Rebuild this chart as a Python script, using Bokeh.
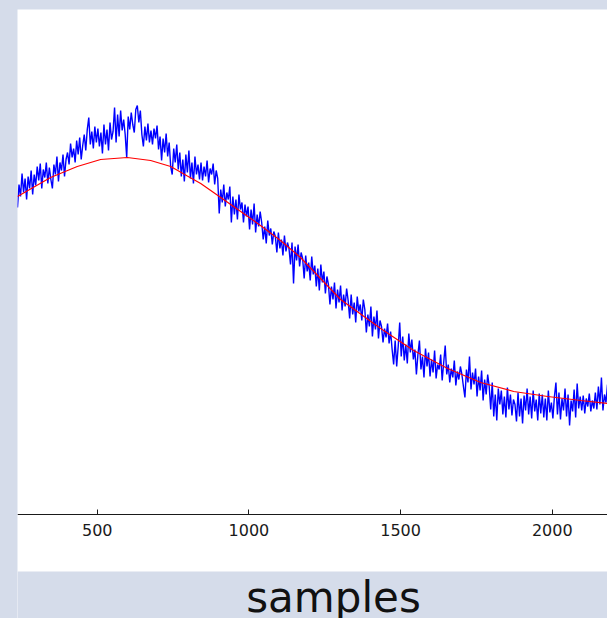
import numpy as np
from bokeh.plotting import figure
from bokeh.models import Range1d, LinearAxis, FixedTicker, Label, BoxAnnotation
from bokeh.embed import file_html
from bokeh.resources import INLINE

# ---- data (amplitude in arbitrary units) ----
x_ticks = [500, 1000, 1500, 2000]
x_label = "samples"

# noisy measured signal (blue), one value every 5 samples starting at sample 237
blue_start = 237
blue_step = 5
blue_values = [
    307, 330, 318, 341, 322, 336, 315, 338, 326, 344, 320,
    340, 329, 348, 334, 351, 326, 345, 337, 352, 331, 347,
    335, 326, 350, 340, 358, 333, 352, 344, 360, 338, 355,
    362, 350, 371, 357, 366, 352, 374, 360, 377, 355, 369,
    380, 364, 385, 397, 370, 383, 366, 388, 372, 386, 368,
    382, 361, 390, 370, 385, 364, 392, 375, 383, 407, 372,
    400, 378, 404, 384, 395, 380, 357,
    398, 385, 402, 390, 382, 405, 409, 392, 404,
    380, 368, 388, 374, 391, 372, 384, 370, 386, 376, 389, 365, 378,
    354, 376, 362, 381, 358, 372, 348, 340, 366, 352, 370,
    345, 362, 338, 355, 333, 360, 342, 364, 336, 352, 331, 358, 340, 350, 335,
    352, 334, 348, 338, 354, 332, 346, 340, 351, 330, 344, 336,
    301,
    325, 312, 330, 308, 322, 315, 328,
    292,
    318, 300, 315, 295, 320, 305, 312, 292, 310, 298,
    308, 285, 305, 290, 311, 282, 300, 288, 303,
    292, 275, 288, 271, 294, 279, 286, 270, 283,
    278, 262, 282, 266, 275, 259, 279, 263, 272,
    266, 250, 272, 231, 268, 254, 270, 248, 262,
    256, 236, 259, 243, 252, 234, 258, 240,
    249, 228, 246, 224, 250, 232, 243, 221, 238,
    230, 210, 228, 215, 232, 206, 225, 212, 229, 204, 220, 208, 226,
    214, 196, 220, 200, 212, 192, 218, 203, 210, 194, 215,
    205, 182, 200, 188, 208, 178, 198, 185, 204, 176, 194,
    188, 172, 186, 177, 191, 171, 183,
    165, 150, 174, 148, 168, 192,
    158, 178, 154, 170, 151, 181, 162, 175, 155,
    165, 140, 160, 174, 145, 158, 137, 166, 148,
    162, 138, 155, 142, 164, 136, 150, 145, 160, 134, 152, 169, 140,
    150, 132, 146, 137, 154, 129, 143, 135, 148,
    140, 128, 117, 145, 132, 158, 125, 142,
    130, 146, 118, 138, 124, 144, 114, 135, 120, 140,
    128, 105, 132, 98, 120, 94, 126, 110,
    124, 100, 118, 97, 127, 105, 120, 99, 115,
    110, 93, 122, 98, 116, 91, 119, 104, 126,
    100, 118, 96, 124, 103, 115, 94, 121, 101,
    120, 97, 116, 94, 124, 102, 112, 96,
    118, 132, 100, 122, 95, 116, 104, 126, 98,
    120, 89, 114, 103, 125, 97, 131, 106, 118,
    104, 119, 101, 116, 108, 121, 103, 114, 106,
    122, 105, 128, 110, 137, 104, 120, 112, 130,
]

# smooth fitted curve (red)
red_samples = [237, 346, 434, 511, 599, 676, 742, 797, 841, 907, 1038, 1104,
               1170, 1302, 1434, 1543, 1655, 1764, 1873, 1985, 2094, 2183]
red_values = [318, 337, 348, 355, 357, 354, 348, 338.5, 331, 317, 289, 274,
              257, 215, 186, 164, 146, 132, 123, 118, 114, 111]

blue_samples = blue_start + blue_step * np.arange(len(blue_values))

BG = "#d5dcea"

p = figure(width=607, height=618, output_backend="svg", toolbar_location=None,
           x_axis_location=None, y_axis_location=None,
           x_range=Range1d(237, 2182), y_range=Range1d(-104, 505),
           min_border_left=17, min_border_top=9, min_border_right=0, min_border_bottom=0,
           border_fill_color=BG, background_fill_color="white", outline_line_color=None)
for g in p.grid:
    g.visible = False

# blue-grey strip under the white panel (holds the x label)
p.add_layout(BoxAnnotation(top=-57, fill_color=BG, fill_alpha=1.0, line_color=None))

ax = LinearAxis(fixed_location=0, ticker=FixedTicker(ticks=x_ticks))
ax.axis_line_color = "#1a1a1a"
ax.axis_line_width = 1
ax.major_tick_in = 5
ax.major_tick_out = 0
ax.major_tick_line_color = "#1a1a1a"
ax.minor_tick_line_color = None
ax.major_label_standoff = 9
ax.major_label_text_font = "DejaVu Sans"
ax.major_label_text_font_size = "16px"
ax.major_label_text_color = "#1a1a1a"
p.add_layout(ax, "below")

p.line(blue_samples, blue_values, line_color="#0000ff", line_width=1.4)
p.line(red_samples, red_values, line_color="#ff0000", line_width=1.2)

lab = Label(x=316, y=21, x_units="screen", y_units="screen", text=x_label,
            text_font="DejaVu Sans", text_font_size="42px", text_color="#111111",
            text_align="center", text_baseline="alphabetic")
p.add_layout(lab)

html = file_html(p, INLINE, title="")
html = html.replace("</head>", "<style>body{background-color:%s;}</style></head>" % BG, 1)
open("out.html", "w").write(html)
